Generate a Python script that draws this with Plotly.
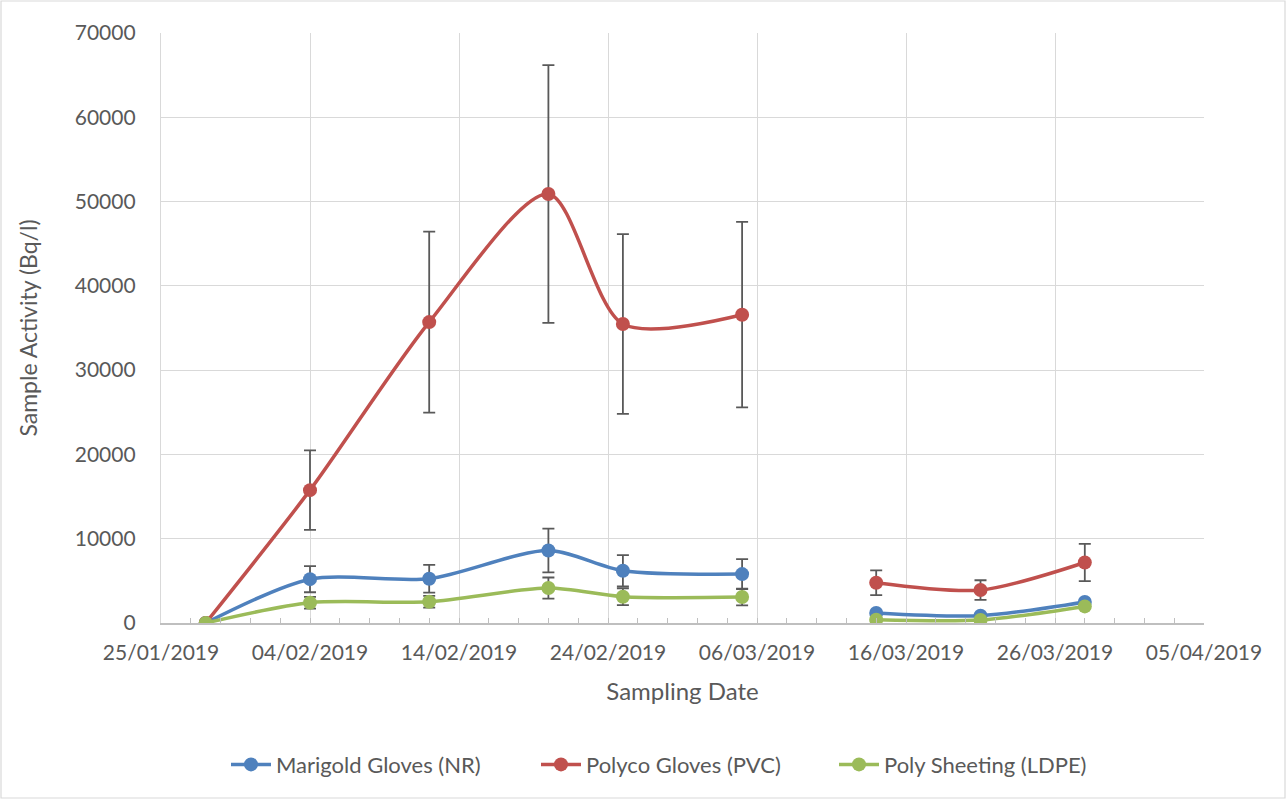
import plotly.graph_objects as go

# Sampling dates (two campaigns, gap between 05/03 and 14/03)
dates = ["2019-01-28", "2019-02-04", "2019-02-12", "2019-02-20", "2019-02-25",
         "2019-03-05", "2019-03-14", "2019-03-21", "2019-03-28"]
campaigns = [(0, 6), (6, 9)]

series_names = ["Marigold Gloves (NR)", "Polyco Gloves (PVC)", "Poly Sheeting (LDPE)"]
marigold = [0, 5200, 5250, 8600, 6200, 5800, 1200, 870, 2500]
marigold_err = [0, 1550, 1650, 2600, 1850, 1770, 0, 0, 0]
polyco = [0, 15760, 35700, 50900, 35470, 36580, 4780, 3910, 7180]
polyco_err = [0, 4720, 10740, 15300, 10660, 11000, 1470, 1160, 2200]
sheeting = [0, 2410, 2520, 4150, 3120, 3080, 390, 360, 1970]
sheeting_err = [0, 700, 700, 1250, 1000, 1000, 0, 0, 0]

colors = ["#4f81bd", "#c0504d", "#9bbb59"]
values = [marigold, polyco, sheeting]
errors = [marigold_err, polyco_err, sheeting_err]
legend_ids = ["legend", "legend2", "legend3"]

FONT = "Lato"
TEXT = "#595959"

fig = go.Figure()
for name, col, ys, es, lg in zip(series_names, colors, values, errors, legend_ids):
    for k, (a, b) in enumerate(campaigns):
        fig.add_trace(go.Scatter(
            x=dates[a:b], y=ys[a:b],
            mode="lines+markers",
            name=name, legendgroup=name, showlegend=(k == 0), legend=lg,
            line=dict(color=col, width=3.5, shape="spline", smoothing=0.8),
            marker=dict(color=col, size=14),
            error_y=dict(type="data", array=es[a:b], visible=True,
                         color="#595959", thickness=1.8, width=6),
        ))

# plot area in pixels: x 161..1204, y 33..623
L, R, T, B = 161, 1287 - 1204, 33, 177
W, H = 1287 - L - R, 800 - T - B


def legend_at(px_left):
    return dict(orientation="h", x=(px_left - L) / W, xanchor="left",
                y=-0.24, yanchor="middle", bgcolor="rgba(0,0,0,0)",
                font=dict(size=22, color=TEXT), itemwidth=40)


fig.update_layout(
    width=1287, height=800,
    margin=dict(l=L, r=R, t=T, b=B),
    paper_bgcolor="white", plot_bgcolor="white",
    font=dict(family=FONT, size=21, color=TEXT),
    showlegend=True,
    legend=legend_at(226),
    legend2=legend_at(536),
    legend3=legend_at(834),
    xaxis=dict(
        type="date",
        range=["2019-01-25", "2019-04-05"],
        tick0="2019-01-25", dtick=10 * 86400000,
        tickformat="%d/%m/%Y",
        showgrid=True, gridcolor="#d9d9d9", gridwidth=1.3,
        showline=True, linecolor="#bfbfbf", linewidth=1.5,
        ticks="inside", ticklen=5, tickcolor="#bfbfbf",
        minor=dict(dtick=2 * 86400000, tick0="2019-01-25", ticks="inside",
                   ticklen=5, tickcolor="#bfbfbf", showgrid=False),
        tickfont=dict(size=21, color=TEXT),
        ticklabelstandoff=10,
        title=dict(text="Sampling Date", font=dict(size=24, color=TEXT), standoff=20),
        zeroline=False,
    ),
    yaxis=dict(
        range=[0, 70000], dtick=10000,
        tickformat="d",
        showgrid=True, gridcolor="#d9d9d9", gridwidth=1.3,
        showline=True, linecolor="#d9d9d9", linewidth=1.3,
        ticks="", tickfont=dict(size=21, color=TEXT),
        ticklabelstandoff=20,
        title=dict(text="Sample Activity (Bq/l)", font=dict(size=23, color=TEXT), standoff=30),
        zeroline=False,
    ),
)

# chart-area border
fig.add_shape(type="rect", xref="paper", yref="paper",
              x0=(1 - L) / W, x1=(1285 - L) / W,
              y0=(H + T - 798) / H, y1=(H + T - 1) / H,
              line=dict(color="#d9d9d9", width=1.2), fillcolor="rgba(0,0,0,0)",
              layer="below")

fig.write_html("out.html")
